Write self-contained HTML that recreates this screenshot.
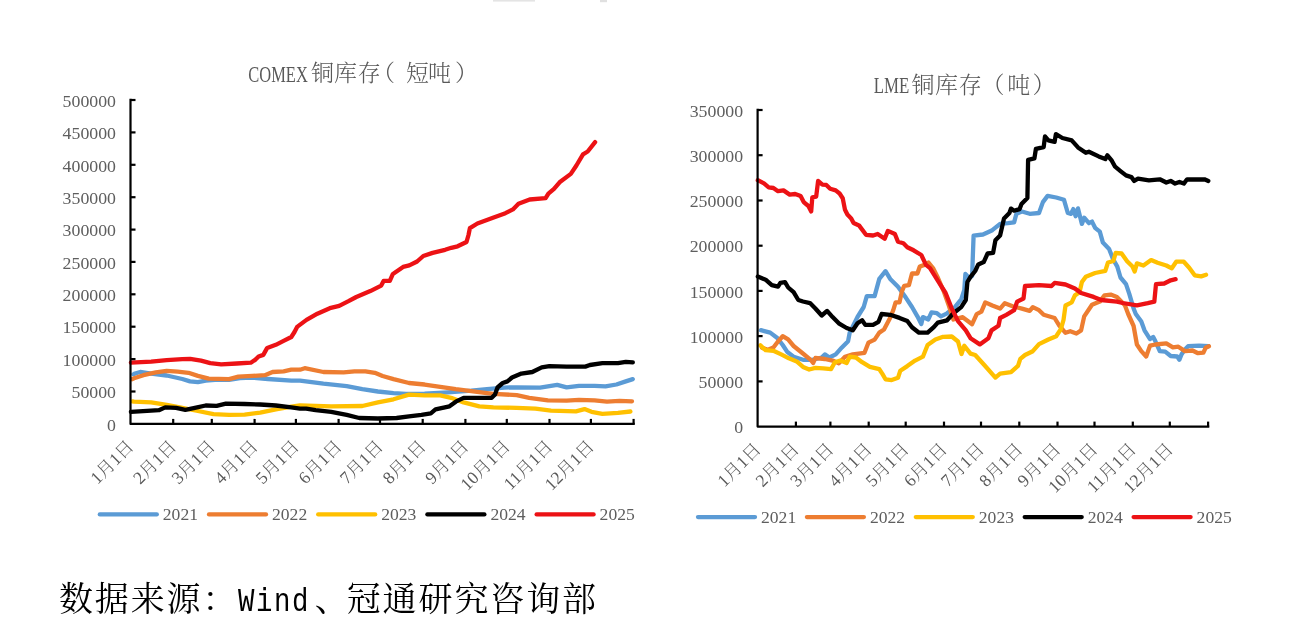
<!DOCTYPE html>
<html lang="zh-CN">
<head>
<meta charset="utf-8">
<title>COMEX铜库存 / LME铜库存</title>
<style>
html,body{margin:0;padding:0;background:#fff;}
body{width:1316px;height:642px;overflow:hidden;}
svg{display:block;}
text{font-family:'Liberation Serif','Noto Serif CJK SC',serif;}
.lb{font-size:17.6px;fill:#595959;font-weight:300;}
.tt{font-size:24px;fill:#595959;font-weight:300;}
.ld{font-size:17.1px;fill:#5e5e5e;}
.tc{font-size:23px;}
.src{font-size:34px;fill:#000;font-weight:400;letter-spacing:1.9px;}
</style>
</head>
<body>
<svg width="1316" height="642" viewBox="0 0 1316 642">
<rect width="1316" height="642" fill="#fff"/>
<rect x="493" y="0" width="42" height="1.6" fill="#e4e4e4"/><rect x="600" y="0" width="7" height="2.2" fill="#e0e0e0"/>

<polyline points="133.5,374.3 135.0,373.5 140.2,372.0 151.2,373.6 166.7,375.5 182.3,379.0 190.0,381.4 197.9,382.2 205.7,380.6 215.0,379.8 229.0,379.8 240.0,378.2 252.0,377.6 268.0,379.0 291.3,380.6 300.0,380.6 323.4,383.7 346.7,386.1 362.3,389.2 377.9,391.5 393.5,393.1 405.9,393.9 424.6,393.6 448.0,392.3 471.3,390.7 486.9,389.2 504.3,387.6 516.7,387.3 540.1,387.6 557.2,384.8 566.6,387.3 579.0,385.8 594.6,385.8 605.5,386.4 616.4,384.5 625.8,381.4 632.8,379.1" fill="none" stroke="#5B9BD5" stroke-width="4.3" stroke-linejoin="round" stroke-linecap="round"/>
<polyline points="132.3,379.2 134.0,378.3 143.4,375.2 155.8,372.4 166.7,370.8 177.6,371.7 188.5,372.8 197.9,375.9 208.8,378.6 229.0,379.1 238.4,376.7 252.4,375.9 264.9,375.2 272.6,372.0 283.6,371.3 291.3,369.7 300.0,369.7 304.7,368.2 323.4,372.0 343.6,372.4 354.5,371.3 365.4,371.3 374.8,372.8 382.6,376.0 393.5,379.1 409.0,383.0 424.6,384.5 440.2,386.9 455.8,389.2 471.3,391.1 486.9,393.1 493.4,393.9 516.7,395.1 529.2,397.8 547.9,400.4 566.6,400.6 579.0,399.8 594.6,400.4 607.0,401.7 619.5,400.9 632.0,401.3" fill="none" stroke="#ED7D31" stroke-width="4.3" stroke-linejoin="round" stroke-linecap="round"/>
<polyline points="132.5,401.4 134.0,401.7 151.2,402.4 166.7,404.8 182.3,407.9 197.9,411.0 213.5,414.1 229.0,414.9 244.6,414.6 260.2,412.6 275.8,409.4 291.3,406.6 300.0,405.5 331.2,406.3 362.3,406.0 377.9,402.4 393.5,399.3 409.0,394.6 424.6,395.4 440.2,395.4 451.1,397.8 463.6,402.4 479.3,406.3 493.4,407.4 516.7,407.9 535.4,408.7 551.0,410.7 575.9,411.3 584.5,409.1 591.5,411.8 602.4,413.8 618.0,412.9 630.4,411.5" fill="none" stroke="#FFC000" stroke-width="4.3" stroke-linejoin="round" stroke-linecap="round"/>
<polyline points="130.9,411.8 151.2,410.7 158.9,410.2 165.2,407.4 176.1,407.9 185.4,409.8 194.8,407.9 205.7,405.5 216.6,405.9 225.9,403.7 244.6,404.0 260.2,404.5 275.8,405.5 291.3,407.4 300.0,408.7 306.2,408.7 315.6,410.2 331.2,411.8 346.7,414.9 359.2,418.0 377.9,418.5 396.6,418.0 409.0,416.4 421.5,414.9 430.8,413.3 435.5,409.4 449.5,406.3 455.8,401.7 463.6,397.8 491.7,397.8 495.0,394.5 497.5,387.5 502.7,383.0 507.4,381.4 512.0,377.5 521.4,373.6 532.3,372.0 541.7,367.4 549.4,366.1 566.6,366.6 585.3,366.6 589.9,365.0 602.4,363.2 618.0,363.2 625.8,361.9 632.8,362.4" fill="none" stroke="#000000" stroke-width="4.3" stroke-linejoin="round" stroke-linecap="round"/>
<polyline points="130.9,362.7 151.2,361.6 166.7,360.1 182.3,359.1 190.1,358.8 201.0,360.7 210.3,363.2 221.2,364.3 236.8,363.5 250.8,362.7 255.5,359.6 258.6,356.5 263.3,354.9 267.2,347.9 275.8,344.8 283.6,340.9 291.3,337.0 294.5,332.0 297.1,326.9 306.5,319.9 317.4,313.7 329.8,308.2 339.2,305.9 348.5,301.2 356.3,297.0 370.3,291.1 381.2,285.6 383.6,280.9 389.8,280.9 392.9,273.9 403.1,266.9 409.3,265.4 417.1,261.5 423.3,256.0 432.6,252.9 445.1,249.8 451.3,247.8 457.6,246.3 466.5,242.0 468.5,235.0 469.9,228.1 477.4,223.5 492.3,217.9 505.4,213.2 512.9,209.4 518.5,203.8 529.7,199.5 545.6,198.2 548.4,193.6 554.0,188.9 559.6,182.3 570.8,173.9 576.4,165.5 583.0,154.3 587.7,151.5 595.1,142.1" fill="none" stroke="#EC1215" stroke-width="4.3" stroke-linejoin="round" stroke-linecap="round"/>
<path d="M130.5,98.8 V423.9 H634.8" fill="none" stroke="#000" stroke-width="2.2" stroke-linejoin="round"/>
<text x="107.1" y="430.6" class="ld" textLength="8.9" lengthAdjust="spacingAndGlyphs">0</text>
<path d="M130.5,391.5 h5" stroke="#000" stroke-width="2.2"/>
<text x="71.5" y="398.2" class="ld" textLength="44.5" lengthAdjust="spacingAndGlyphs">50000</text>
<path d="M130.5,359.1 h5" stroke="#000" stroke-width="2.2"/>
<text x="62.6" y="365.8" class="ld" textLength="53.4" lengthAdjust="spacingAndGlyphs">100000</text>
<path d="M130.5,326.7 h5" stroke="#000" stroke-width="2.2"/>
<text x="62.6" y="333.4" class="ld" textLength="53.4" lengthAdjust="spacingAndGlyphs">150000</text>
<path d="M130.5,294.3 h5" stroke="#000" stroke-width="2.2"/>
<text x="62.6" y="301.0" class="ld" textLength="53.4" lengthAdjust="spacingAndGlyphs">200000</text>
<path d="M130.5,261.9 h5" stroke="#000" stroke-width="2.2"/>
<text x="62.6" y="268.6" class="ld" textLength="53.4" lengthAdjust="spacingAndGlyphs">250000</text>
<path d="M130.5,229.6 h5" stroke="#000" stroke-width="2.2"/>
<text x="62.6" y="236.3" class="ld" textLength="53.4" lengthAdjust="spacingAndGlyphs">300000</text>
<path d="M130.5,197.2 h5" stroke="#000" stroke-width="2.2"/>
<text x="62.6" y="203.9" class="ld" textLength="53.4" lengthAdjust="spacingAndGlyphs">350000</text>
<path d="M130.5,164.8 h5" stroke="#000" stroke-width="2.2"/>
<text x="62.6" y="171.5" class="ld" textLength="53.4" lengthAdjust="spacingAndGlyphs">400000</text>
<path d="M130.5,132.4 h5" stroke="#000" stroke-width="2.2"/>
<text x="62.6" y="139.1" class="ld" textLength="53.4" lengthAdjust="spacingAndGlyphs">450000</text>
<path d="M130.5,100.0 h5" stroke="#000" stroke-width="2.2"/>
<text x="62.6" y="106.7" class="ld" textLength="53.4" lengthAdjust="spacingAndGlyphs">500000</text>
<text transform="translate(134.8,447.6) rotate(-45)" text-anchor="end" class="lb">1月1日</text>
<path d="M173.2,423.9 v-5" stroke="#000" stroke-width="2.2"/>
<text transform="translate(177.5,447.6) rotate(-45)" text-anchor="end" class="lb">2月1日</text>
<path d="M211.8,423.9 v-5" stroke="#000" stroke-width="2.2"/>
<text transform="translate(216.1,447.6) rotate(-45)" text-anchor="end" class="lb">3月1日</text>
<path d="M254.6,423.9 v-5" stroke="#000" stroke-width="2.2"/>
<text transform="translate(258.9,447.6) rotate(-45)" text-anchor="end" class="lb">4月1日</text>
<path d="M295.9,423.9 v-5" stroke="#000" stroke-width="2.2"/>
<text transform="translate(300.2,447.6) rotate(-45)" text-anchor="end" class="lb">5月1日</text>
<path d="M338.6,423.9 v-5" stroke="#000" stroke-width="2.2"/>
<text transform="translate(342.9,447.6) rotate(-45)" text-anchor="end" class="lb">6月1日</text>
<path d="M380.0,423.9 v-5" stroke="#000" stroke-width="2.2"/>
<text transform="translate(384.3,447.6) rotate(-45)" text-anchor="end" class="lb">7月1日</text>
<path d="M422.7,423.9 v-5" stroke="#000" stroke-width="2.2"/>
<text transform="translate(427.0,447.6) rotate(-45)" text-anchor="end" class="lb">8月1日</text>
<path d="M465.4,423.9 v-5" stroke="#000" stroke-width="2.2"/>
<text transform="translate(469.7,447.6) rotate(-45)" text-anchor="end" class="lb">9月1日</text>
<path d="M506.8,423.9 v-5" stroke="#000" stroke-width="2.2"/>
<text transform="translate(511.1,447.6) rotate(-45)" text-anchor="end" class="lb">10月1日</text>
<path d="M549.5,423.9 v-5" stroke="#000" stroke-width="2.2"/>
<text transform="translate(553.8,447.6) rotate(-45)" text-anchor="end" class="lb">11月1日</text>
<path d="M590.9,423.9 v-5" stroke="#000" stroke-width="2.2"/>
<text transform="translate(595.2,447.6) rotate(-45)" text-anchor="end" class="lb">12月1日</text>
<path d="M633.6,423.9 v-5" stroke="#000" stroke-width="2.2"/>
<path d="M99.8,514.4 h57" stroke="#5B9BD5" stroke-width="4.3" stroke-linecap="round"/>
<text x="162.8" y="520.3" class="ld" textLength="35.2" lengthAdjust="spacingAndGlyphs">2021</text>
<path d="M209.0,514.4 h57" stroke="#ED7D31" stroke-width="4.3" stroke-linecap="round"/>
<text x="272.0" y="520.3" class="ld" textLength="35.2" lengthAdjust="spacingAndGlyphs">2022</text>
<path d="M318.2,514.4 h57" stroke="#FFC000" stroke-width="4.3" stroke-linecap="round"/>
<text x="381.2" y="520.3" class="ld" textLength="35.2" lengthAdjust="spacingAndGlyphs">2023</text>
<path d="M427.4,514.4 h57" stroke="#000000" stroke-width="4.3" stroke-linecap="round"/>
<text x="490.4" y="520.3" class="ld" textLength="35.2" lengthAdjust="spacingAndGlyphs">2024</text>
<path d="M536.6,514.4 h57" stroke="#EC1215" stroke-width="4.3" stroke-linecap="round"/>
<text x="599.6" y="520.3" class="ld" textLength="35.2" lengthAdjust="spacingAndGlyphs">2025</text>
<text x="248.3" y="81.5" class="tt"><tspan textLength="59.5" lengthAdjust="spacingAndGlyphs">COMEX</tspan><tspan class="tc" y="81.2" x="311 334 357.8 372 406 428 455">铜库存（短吨）</tspan></text>
<polyline points="760.9,330.2 770.2,332.6 777.3,338.0 782.7,345.0 787.4,352.1 793.6,356.7 803.0,359.8 812.3,359.8 821.7,357.5 824.8,354.4 829.4,357.5 835.7,354.4 841.9,347.4 848.1,341.2 849.7,332.6 857.5,317.0 863.7,307.0 866.8,296.1 874.6,296.1 879.3,278.9 885.5,271.2 890.2,278.9 898.0,286.7 905.8,297.6 912.0,307.0 917.4,316.3 921.3,324.1 922.9,317.1 928.3,319.4 931.5,312.4 936.9,313.2 940.9,316.4 947.1,313.3 954.9,307.1 961.2,299.3 964.3,289.9 965.4,274.0 969.2,278.0 972.1,276.0 973.6,235.6 983.0,234.5 992.3,230.2 1000.1,223.9 1007.9,223.2 1014.1,222.4 1016.4,213.8 1021.9,211.5 1029.7,213.8 1039.0,213.0 1042.9,202.1 1047.6,195.9 1056.2,197.5 1064.0,199.8 1067.8,213.0 1071.0,213.8 1073.3,209.1 1075.6,216.2 1078.0,208.4 1081.9,223.9 1084.2,217.7 1088.9,223.2 1092.0,221.6 1095.1,227.8 1099.8,231.7 1102.9,242.6 1109.1,248.9 1113.0,259.0 1117.3,266.6 1120.5,277.5 1126.0,284.1 1129.3,293.9 1133.6,308.5 1135.8,314.0 1141.3,321.6 1144.5,330.3 1150.0,339.1 1153.2,336.9 1155.4,341.3 1159.8,351.1 1165.2,351.6 1170.7,356.0 1177.2,356.5 1179.4,359.8 1181.6,354.3 1184.9,349.4 1188.1,346.2 1199.1,345.6 1208.3,346.2" fill="none" stroke="#5B9BD5" stroke-width="4.3" stroke-linejoin="round" stroke-linecap="round"/>
<polyline points="762.0,347.8 768.0,349.8 773.4,347.5 778.0,341.5 782.7,336.2 788.1,339.4 793.6,346.0 802.3,353.0 811.0,360.1 813.2,363.0 815.4,358.0 824.8,359.0 832.6,360.6 838.8,363.2 845.0,356.7 852.8,354.4 864.5,352.8 868.4,342.7 874.6,339.6 879.3,332.6 884.0,329.5 890.2,317.8 893.3,310.0 895.6,302.3 899.5,302.3 901.9,291.4 904.2,285.9 908.9,285.2 912.0,273.5 917.4,273.5 919.8,266.5 924.5,264.9 928.5,262.5 933.0,268.0 938.0,278.0 944.0,292.0 949.0,306.0 953.4,319.5 962.7,317.2 972.1,324.2 976.7,314.1 981.4,311.7 985.3,302.4 992.3,305.5 1000.1,308.6 1004.8,303.2 1012.6,306.3 1021.9,308.6 1029.7,310.9 1032.8,307.1 1039.0,310.2 1043.7,314.8 1054.6,318.0 1059.3,325.7 1065.5,332.8 1070.2,331.2 1076.4,333.5 1081.1,330.4 1084.2,316.4 1092.0,304.7 1099.8,301.6 1104.5,295.4 1110.7,294.6 1116.9,296.9 1124.9,305.3 1128.2,314.0 1133.6,326.0 1136.9,344.5 1141.3,351.1 1146.2,356.5 1150.0,345.6 1155.4,344.5 1166.3,343.4 1172.9,347.3 1178.3,346.7 1184.9,351.1 1192.5,350.5 1198.0,353.2 1203.4,352.7 1205.6,347.8 1208.9,346.2" fill="none" stroke="#ED7D31" stroke-width="4.3" stroke-linejoin="round" stroke-linecap="round"/>
<polyline points="760.4,345.4 765.6,350.2 773.4,350.8 781.2,354.4 788.9,358.3 796.7,361.4 803.0,366.9 809.2,369.5 815.4,367.9 823.2,368.4 831.0,369.2 834.9,362.2 840.3,360.6 846.6,363.0 849.7,356.7 855.9,357.5 862.1,362.2 869.9,366.9 879.3,369.2 882.4,373.9 885.5,379.3 891.7,380.1 898.0,377.8 900.3,370.7 907.3,366.1 915.1,360.6 922.9,356.7 927.6,345.0 935.4,339.6 943.1,336.8 951.8,336.5 958.0,341.5 961.5,354.0 964.3,345.8 970.5,353.6 975.2,355.0 984.5,365.2 995.4,377.6 1000.1,373.7 1011.0,372.2 1018.0,365.9 1020.3,358.9 1025.0,355.0 1032.8,351.2 1039.0,344.1 1048.4,339.5 1056.2,336.2 1060.8,329.3 1063.5,320.0 1065.5,305.5 1071.7,302.4 1074.9,295.4 1079.5,292.3 1081.9,282.1 1085.8,276.7 1095.1,273.0 1105.3,270.8 1108.0,262.5 1113.4,261.0 1115.6,253.0 1121.6,253.5 1127.1,261.2 1132.5,266.6 1134.7,271.5 1136.9,263.4 1143.4,265.5 1151.1,260.1 1157.6,262.8 1166.3,265.5 1171.8,268.3 1176.2,261.7 1183.8,261.7 1189.2,267.7 1194.7,275.3 1201.2,276.4 1206.1,274.8" fill="none" stroke="#FFC000" stroke-width="4.3" stroke-linejoin="round" stroke-linecap="round"/>
<polyline points="757.8,276.6 765.6,279.7 771.8,285.2 778.0,286.7 780.4,282.8 785.0,282.1 788.2,287.5 793.6,292.2 798.3,300.0 803.0,301.5 810.0,303.1 815.4,308.5 821.7,315.5 827.1,310.9 832.6,317.1 838.8,323.3 846.6,328.0 852.8,330.3 857.5,323.3 862.1,320.2 865.3,324.9 873.0,324.9 878.5,321.8 881.6,314.0 890.2,314.8 899.5,317.9 907.3,321.0 912.0,327.2 919.0,332.7 927.6,332.7 933.8,327.2 937.8,322.6 947.1,320.3 953.4,313.3 961.2,307.1 965.8,300.0 967.4,282.0 970.5,276.9 975.2,271.0 978.3,264.4 983.7,262.1 987.6,253.5 993.1,252.8 995.4,240.3 1000.1,235.6 1004.0,218.5 1009.4,213.0 1011.0,208.6 1014.1,210.7 1019.6,209.1 1021.5,204.0 1027.4,198.0 1028.1,159.8 1034.4,158.3 1035.9,148.9 1043.7,147.1 1045.0,136.5 1048.4,140.4 1054.6,141.9 1055.9,134.1 1062.4,138.0 1071.7,140.4 1078.0,147.4 1085.8,152.8 1088.9,151.7 1098.7,156.4 1105.3,159.1 1107.4,155.3 1111.8,160.7 1115.1,166.7 1120.5,171.1 1126.0,175.4 1131.4,177.1 1134.2,180.9 1138.0,178.7 1148.9,180.3 1159.8,179.3 1166.3,182.5 1170.7,180.9 1175.1,183.6 1179.4,182.0 1183.8,183.6 1187.1,179.3 1199.1,179.5 1204.5,179.3 1208.3,180.9" fill="none" stroke="#000000" stroke-width="4.3" stroke-linejoin="round" stroke-linecap="round"/>
<polyline points="757.8,180.2 764.0,183.4 768.7,187.3 773.4,188.0 778.0,191.2 783.5,190.4 789.7,194.6 795.2,194.0 800.6,196.1 803.7,202.1 808.4,206.0 811.2,211.4 812.3,197.4 816.2,196.6 818.1,181.0 822.4,184.6 826.3,184.9 830.2,188.8 835.7,190.4 839.6,193.5 842.7,198.2 845.0,209.8 847.4,214.5 851.2,218.4 853.6,223.1 859.0,225.4 866.0,234.8 873.1,235.5 877.7,234.0 884.7,238.7 887.9,230.9 894.9,234.0 898.0,241.8 903.4,243.3 907.3,247.2 913.6,250.3 921.3,255.0 926.0,264.9 930.0,268.1 937.8,280.6 945.6,293.0 951.8,308.6 958.0,321.1 965.8,330.4 970.5,338.2 979.8,344.4 988.4,338.2 991.5,330.4 998.5,325.7 1000.1,318.0 1006.3,314.8 1014.1,310.2 1017.2,301.6 1023.5,298.5 1025.0,286.0 1039.0,285.2 1051.5,286.0 1054.6,282.9 1065.5,284.5 1074.9,288.4 1081.1,293.0 1093.6,296.9 1101.3,300.0 1116.9,301.6 1122.7,303.0 1136.9,305.3 1147.8,303.2 1154.3,301.7 1156.0,284.1 1164.2,283.5 1170.7,280.3 1175.6,279.2" fill="none" stroke="#EC1215" stroke-width="4.3" stroke-linejoin="round" stroke-linecap="round"/>
<path d="M757.6,108.8 V426.6 H1209.3" fill="none" stroke="#000" stroke-width="2.2" stroke-linejoin="round"/>
<text x="734.2" y="433.3" class="ld" textLength="8.9" lengthAdjust="spacingAndGlyphs">0</text>
<path d="M757.6,381.4 h5" stroke="#000" stroke-width="2.2"/>
<text x="698.6" y="388.1" class="ld" textLength="44.5" lengthAdjust="spacingAndGlyphs">50000</text>
<path d="M757.6,336.1 h5" stroke="#000" stroke-width="2.2"/>
<text x="689.7" y="342.8" class="ld" textLength="53.4" lengthAdjust="spacingAndGlyphs">100000</text>
<path d="M757.6,290.9 h5" stroke="#000" stroke-width="2.2"/>
<text x="689.7" y="297.6" class="ld" textLength="53.4" lengthAdjust="spacingAndGlyphs">150000</text>
<path d="M757.6,245.7 h5" stroke="#000" stroke-width="2.2"/>
<text x="689.7" y="252.4" class="ld" textLength="53.4" lengthAdjust="spacingAndGlyphs">200000</text>
<path d="M757.6,200.5 h5" stroke="#000" stroke-width="2.2"/>
<text x="689.7" y="207.2" class="ld" textLength="53.4" lengthAdjust="spacingAndGlyphs">250000</text>
<path d="M757.6,155.2 h5" stroke="#000" stroke-width="2.2"/>
<text x="689.7" y="161.9" class="ld" textLength="53.4" lengthAdjust="spacingAndGlyphs">300000</text>
<path d="M757.6,110.0 h5" stroke="#000" stroke-width="2.2"/>
<text x="689.7" y="116.7" class="ld" textLength="53.4" lengthAdjust="spacingAndGlyphs">350000</text>
<text transform="translate(761.9,450.3) rotate(-45)" text-anchor="end" class="lb">1月1日</text>
<path d="M795.9,426.6 v-5" stroke="#000" stroke-width="2.2"/>
<text transform="translate(800.2,450.3) rotate(-45)" text-anchor="end" class="lb">2月1日</text>
<path d="M830.4,426.6 v-5" stroke="#000" stroke-width="2.2"/>
<text transform="translate(834.7,450.3) rotate(-45)" text-anchor="end" class="lb">3月1日</text>
<path d="M868.7,426.6 v-5" stroke="#000" stroke-width="2.2"/>
<text transform="translate(873.0,450.3) rotate(-45)" text-anchor="end" class="lb">4月1日</text>
<path d="M905.7,426.6 v-5" stroke="#000" stroke-width="2.2"/>
<text transform="translate(910.0,450.3) rotate(-45)" text-anchor="end" class="lb">5月1日</text>
<path d="M944.0,426.6 v-5" stroke="#000" stroke-width="2.2"/>
<text transform="translate(948.3,450.3) rotate(-45)" text-anchor="end" class="lb">6月1日</text>
<path d="M981.0,426.6 v-5" stroke="#000" stroke-width="2.2"/>
<text transform="translate(985.3,450.3) rotate(-45)" text-anchor="end" class="lb">7月1日</text>
<path d="M1019.3,426.6 v-5" stroke="#000" stroke-width="2.2"/>
<text transform="translate(1023.6,450.3) rotate(-45)" text-anchor="end" class="lb">8月1日</text>
<path d="M1057.5,426.6 v-5" stroke="#000" stroke-width="2.2"/>
<text transform="translate(1061.8,450.3) rotate(-45)" text-anchor="end" class="lb">9月1日</text>
<path d="M1094.5,426.6 v-5" stroke="#000" stroke-width="2.2"/>
<text transform="translate(1098.8,450.3) rotate(-45)" text-anchor="end" class="lb">10月1日</text>
<path d="M1132.8,426.6 v-5" stroke="#000" stroke-width="2.2"/>
<text transform="translate(1137.1,450.3) rotate(-45)" text-anchor="end" class="lb">11月1日</text>
<path d="M1169.8,426.6 v-5" stroke="#000" stroke-width="2.2"/>
<text transform="translate(1174.1,450.3) rotate(-45)" text-anchor="end" class="lb">12月1日</text>
<path d="M1208.1,426.6 v-5" stroke="#000" stroke-width="2.2"/>
<path d="M698.0,517.1 h57" stroke="#5B9BD5" stroke-width="4.3" stroke-linecap="round"/>
<text x="761.0" y="523.0" class="ld" textLength="35.2" lengthAdjust="spacingAndGlyphs">2021</text>
<path d="M806.9,517.1 h57" stroke="#ED7D31" stroke-width="4.3" stroke-linecap="round"/>
<text x="869.9" y="523.0" class="ld" textLength="35.2" lengthAdjust="spacingAndGlyphs">2022</text>
<path d="M915.8,517.1 h57" stroke="#FFC000" stroke-width="4.3" stroke-linecap="round"/>
<text x="978.8" y="523.0" class="ld" textLength="35.2" lengthAdjust="spacingAndGlyphs">2023</text>
<path d="M1024.7,517.1 h57" stroke="#000000" stroke-width="4.3" stroke-linecap="round"/>
<text x="1087.7" y="523.0" class="ld" textLength="35.2" lengthAdjust="spacingAndGlyphs">2024</text>
<path d="M1133.6,517.1 h57" stroke="#EC1215" stroke-width="4.3" stroke-linecap="round"/>
<text x="1196.6" y="523.0" class="ld" textLength="35.2" lengthAdjust="spacingAndGlyphs">2025</text>
<text x="873.7" y="93" class="tt"><tspan textLength="35.5" lengthAdjust="spacingAndGlyphs">LME</tspan><tspan class="tc" y="92.6" x="911.5 935 958.8 981.5 1007.3 1032.5">铜库存（吨）</tspan></text>
<text x="58.9" y="610.5" class="src">数据来源：<tspan x="238.1" textLength="71.8" lengthAdjust="spacingAndGlyphs" font-family="'Liberation Mono',monospace">Wind</tspan><tspan x="314.8">、</tspan><tspan x="346.7">冠通研究咨询部</tspan></text>
</svg>
</body>
</html>
